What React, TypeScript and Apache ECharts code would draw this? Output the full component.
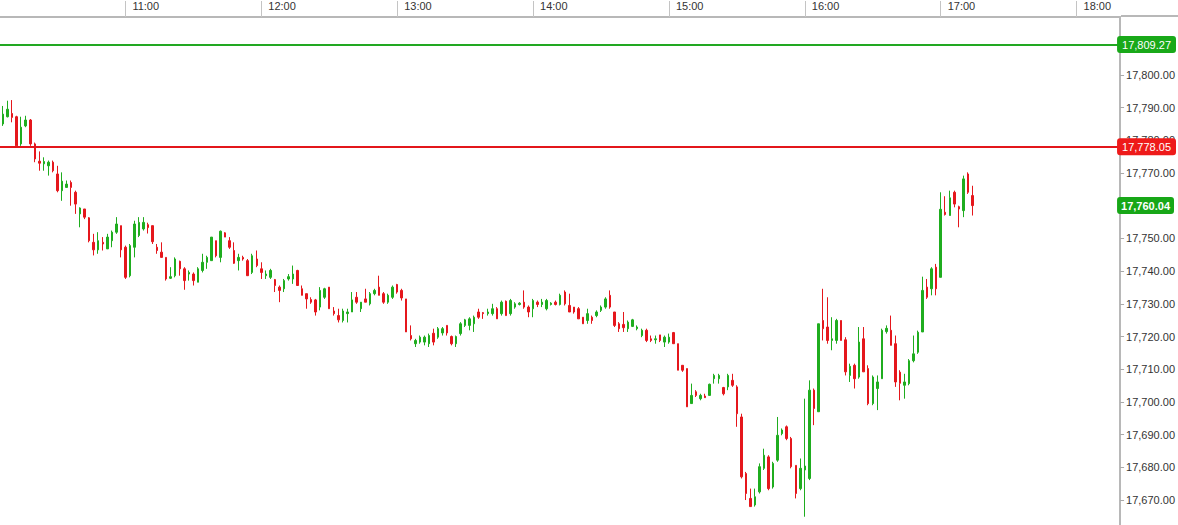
import React, { useEffect, useRef } from "react";
import * as echarts from "echarts";

// 2-minute candles, first one at 10:06 (minutes since midnight)
const startMinute = 606;
const stepMinutes = 2;

const opens = [
  17785.0, 17787.2, 17788.2, 17787.2, 17778.9, 17784.4, 17786.2, 17778.9, 17773.6, 17772.8,
  17772.2, 17773.3, 17769.7, 17764.6, 17765.6, 17767.1, 17764.1, 17757.5, 17759.0, 17756.3,
  17748.8, 17746.5, 17748.8, 17746.8, 17749.3, 17751.9, 17753.9, 17747.3, 17738.6, 17747.3,
  17750.9, 17752.9, 17754.2, 17753.9, 17747.3, 17745.8, 17744.2, 17737.8, 17738.6, 17743.0,
  17740.7, 17739.1, 17739.1, 17736.6, 17740.2, 17742.7, 17743.2, 17749.3, 17744.2, 17751.7,
  17749.3, 17746.3, 17743.2, 17744.2, 17743.2, 17739.6, 17743.7, 17740.7, 17738.6, 17738.1,
  17737.4, 17735.1, 17734.6, 17737.6, 17737.6, 17740.2, 17734.6, 17733.1, 17731.3, 17731.2,
  17729.0, 17732.0, 17735.1, 17727.8, 17726.4, 17724.9, 17727.0, 17727.5, 17732.0, 17728.5,
  17731.5, 17730.0, 17733.1, 17735.1, 17733.1, 17730.5, 17732.0, 17735.9, 17734.1, 17731.5,
  17720.3, 17717.8, 17718.3, 17718.3, 17717.8, 17721.0, 17719.8, 17721.1, 17723.4, 17720.0,
  17717.8, 17720.9, 17723.4, 17723.4, 17723.9, 17727.5, 17727.3, 17727.0, 17727.0, 17728.5,
  17727.0, 17730.8, 17727.0, 17729.0, 17729.8, 17730.5, 17729.0, 17728.5, 17730.5, 17729.8,
  17728.5, 17729.8, 17730.5, 17729.8, 17733.6, 17729.5, 17729.0, 17728.5, 17725.9, 17724.9,
  17725.9, 17726.4, 17728.0, 17729.0, 17732.6, 17727.5, 17723.9, 17723.7, 17722.4, 17723.1,
  17722.4, 17720.3, 17721.9, 17719.3, 17719.0, 17720.5, 17718.3, 17718.3, 17721.2, 17717.8,
  17711.2, 17710.2, 17699.5, 17703.1, 17701.0, 17701.8, 17702.0, 17707.1, 17707.1, 17704.4,
  17704.6, 17706.6, 17704.6, 17695.4, 17678.1, 17670.5, 17668.5, 17672.5, 17679.7, 17683.2,
  17674.0, 17682.2, 17690.3, 17692.4, 17688.8, 17680.6, 17673.5, 17679.2, 17676.6, 17703.6,
  17697.0, 17724.9, 17722.9, 17718.8, 17718.8, 17724.9, 17719.0, 17708.1, 17711.2, 17707.6,
  17719.3, 17710.2, 17699.5, 17704.1, 17707.1, 17721.5, 17721.9, 17717.8, 17709.1, 17705.1,
  17705.6, 17712.6, 17715.2, 17721.4, 17735.1, 17734.6, 17741.2, 17738.1, 17758.0, 17757.0,
  17764.1, 17759.7, 17758.5, 17769.7, 17763.1,
];

const closes = [
  17788.0, 17789.5, 17787.0, 17778.3, 17784.0, 17786.2, 17778.9, 17774.3, 17773.0, 17773.5,
  17773.3, 17770.7, 17764.6, 17767.5, 17766.6, 17765.6, 17760.5, 17759.3, 17756.5, 17749.3,
  17746.5, 17749.3, 17748.3, 17750.4, 17751.9, 17754.4, 17746.5, 17738.1, 17747.8, 17754.4,
  17754.9, 17754.9, 17753.3, 17749.0, 17746.3, 17744.2, 17737.6, 17738.3, 17743.7, 17740.7,
  17737.1, 17739.6, 17737.1, 17740.7, 17742.7, 17744.2, 17750.4, 17744.7, 17752.2, 17750.4,
  17747.3, 17742.4, 17744.2, 17743.7, 17738.6, 17744.7, 17741.7, 17739.6, 17739.1, 17740.2,
  17735.6, 17734.1, 17737.1, 17738.3, 17739.1, 17735.6, 17732.6, 17731.5, 17730.5, 17727.5,
  17734.1, 17734.6, 17728.5, 17727.0, 17725.1, 17727.8, 17727.5, 17731.2, 17730.5, 17730.5,
  17730.5, 17733.1, 17734.1, 17732.6, 17730.5, 17732.6, 17735.1, 17733.6, 17731.8, 17721.4,
  17719.3, 17718.8, 17719.8, 17719.8, 17720.3, 17718.3, 17722.4, 17722.4, 17721.1, 17717.8,
  17720.0, 17723.9, 17725.1, 17725.4, 17725.9, 17725.9, 17727.0, 17727.5, 17728.5, 17725.4,
  17730.5, 17726.4, 17731.0, 17730.0, 17730.2, 17729.0, 17727.5, 17731.0, 17729.8, 17730.5,
  17731.0, 17730.2, 17729.8, 17732.6, 17730.0, 17727.5, 17727.5, 17725.4, 17723.9, 17727.0,
  17724.9, 17727.5, 17729.0, 17731.5, 17729.0, 17723.4, 17722.4, 17722.7, 17724.4, 17725.1,
  17722.9, 17721.9, 17718.8, 17718.8, 17719.3, 17718.8, 17719.8, 17719.8, 17717.8, 17709.7,
  17709.7, 17698.5, 17702.0, 17702.0, 17702.0, 17701.3, 17705.4, 17708.1, 17708.1, 17702.5,
  17708.1, 17705.1, 17696.4, 17677.1, 17672.0, 17668.0, 17671.0, 17680.2, 17683.7, 17673.5,
  17681.2, 17689.8, 17691.4, 17688.8, 17680.2, 17672.0, 17679.7, 17680.4, 17703.6, 17698.0,
  17723.9, 17722.4, 17718.8, 17719.3, 17724.9, 17718.8, 17709.2, 17710.9, 17707.1, 17718.3,
  17709.2, 17699.5, 17707.6, 17706.1, 17721.9, 17722.5, 17717.3, 17706.1, 17705.7, 17706.1,
  17712.6, 17714.7, 17721.3, 17734.1, 17732.0, 17740.7, 17734.6, 17758.9, 17757.3, 17762.4,
  17760.5, 17759.0, 17768.2, 17764.1, 17760.04,
];

const lows = [
  17784.4, 17787.0, 17785.5, 17778.3, 17778.3, 17784.0, 17778.3, 17773.3, 17770.7, 17770.7,
  17769.2, 17770.2, 17764.1, 17761.5, 17765.5, 17760.0, 17757.5, 17753.4, 17755.9, 17748.8,
  17744.8, 17745.3, 17746.3, 17746.8, 17747.3, 17751.4, 17744.2, 17737.6, 17738.1, 17744.2,
  17750.4, 17752.4, 17751.5, 17748.3, 17745.3, 17744.2, 17737.1, 17737.6, 17738.1, 17738.6,
  17734.3, 17737.1, 17735.6, 17736.6, 17739.6, 17740.7, 17743.2, 17744.2, 17742.7, 17750.4,
  17746.8, 17742.2, 17740.2, 17743.2, 17738.6, 17739.1, 17741.2, 17737.6, 17737.6, 17737.6,
  17733.6, 17730.5, 17733.6, 17737.1, 17736.1, 17735.6, 17732.6, 17728.5, 17730.0, 17726.4,
  17728.0, 17731.5, 17728.5, 17726.4, 17724.3, 17724.3, 17724.3, 17727.5, 17730.0, 17727.5,
  17730.5, 17729.5, 17732.6, 17732.6, 17730.0, 17730.0, 17731.5, 17733.1, 17731.0, 17721.4,
  17718.8, 17716.8, 17717.8, 17717.3, 17716.8, 17717.3, 17719.3, 17720.3, 17720.3, 17717.3,
  17716.8, 17720.3, 17722.9, 17721.9, 17721.4, 17725.4, 17725.4, 17726.4, 17726.4, 17725.4,
  17726.4, 17726.4, 17726.4, 17728.5, 17729.5, 17728.5, 17725.9, 17725.9, 17729.0, 17729.0,
  17728.0, 17729.5, 17729.5, 17729.5, 17729.5, 17727.5, 17727.0, 17725.4, 17723.9, 17723.9,
  17723.9, 17725.9, 17727.5, 17728.5, 17728.5, 17722.9, 17721.4, 17721.4, 17721.4, 17722.9,
  17721.9, 17719.8, 17718.3, 17718.3, 17717.8, 17718.3, 17716.8, 17717.8, 17717.8, 17709.7,
  17709.2, 17698.5, 17699.5, 17701.5, 17700.5, 17701.2, 17702.0, 17705.6, 17705.6, 17702.0,
  17703.6, 17704.6, 17692.4, 17676.6, 17670.0, 17668.0, 17668.0, 17672.0, 17679.2, 17673.0,
  17673.5, 17681.7, 17689.8, 17688.3, 17679.7, 17670.5, 17673.0, 17664.9, 17676.1, 17692.9,
  17697.0, 17718.8, 17717.8, 17715.8, 17717.8, 17718.8, 17708.1, 17706.1, 17704.1, 17707.1,
  17709.2, 17699.0, 17699.0, 17697.5, 17707.1, 17720.9, 17717.3, 17704.6, 17700.5, 17701.0,
  17705.1, 17712.1, 17714.7, 17721.4, 17731.5, 17732.6, 17732.6, 17738.1, 17757.0, 17757.0,
  17759.5, 17753.4, 17756.5, 17763.6, 17757.0,
];

const highs = [
  17790.5, 17792.1, 17792.3, 17787.5, 17787.2, 17787.5, 17786.5, 17779.3, 17776.6, 17774.8,
  17773.8, 17773.8, 17772.2, 17770.2, 17767.7, 17767.7, 17764.6, 17759.5, 17759.0, 17756.5,
  17751.4, 17751.9, 17750.4, 17751.4, 17752.4, 17756.5, 17753.9, 17747.8, 17748.3, 17755.4,
  17756.5, 17756.5, 17754.8, 17753.9, 17748.3, 17748.8, 17744.2, 17741.2, 17744.2, 17743.2,
  17741.2, 17740.2, 17739.6, 17741.2, 17745.3, 17744.7, 17750.4, 17749.3, 17752.4, 17751.9,
  17750.4, 17748.8, 17745.3, 17744.7, 17743.7, 17745.3, 17746.3, 17742.7, 17740.2, 17740.7,
  17737.6, 17735.6, 17737.6, 17739.1, 17741.7, 17740.4, 17735.6, 17733.1, 17732.0, 17731.5,
  17735.1, 17734.9, 17735.1, 17729.0, 17728.5, 17728.5, 17728.5, 17733.6, 17733.6, 17730.5,
  17734.6, 17733.6, 17734.6, 17738.6, 17733.6, 17733.1, 17735.6, 17736.1, 17734.6, 17731.5,
  17723.4, 17719.3, 17720.3, 17720.3, 17720.9, 17722.4, 17722.9, 17722.9, 17723.4, 17720.3,
  17720.3, 17724.4, 17725.4, 17725.9, 17726.4, 17728.5, 17727.5, 17728.5, 17730.0, 17729.0,
  17731.0, 17731.0, 17731.5, 17730.5, 17730.5, 17734.1, 17729.5, 17731.5, 17731.0, 17731.5,
  17731.5, 17730.5, 17731.0, 17733.1, 17734.1, 17733.1, 17729.0, 17729.0, 17725.9, 17728.5,
  17726.4, 17728.0, 17729.5, 17732.0, 17734.1, 17727.5, 17724.4, 17727.5, 17724.9, 17725.4,
  17723.4, 17722.4, 17722.4, 17720.3, 17720.3, 17720.5, 17720.3, 17720.9, 17721.4, 17717.8,
  17711.2, 17710.2, 17705.6, 17703.6, 17702.5, 17702.5, 17705.6, 17708.6, 17708.6, 17704.6,
  17708.6, 17708.6, 17705.1, 17696.4, 17678.6, 17673.5, 17673.5, 17681.2, 17685.7, 17683.7,
  17681.7, 17695.4, 17691.9, 17692.8, 17689.3, 17680.6, 17682.7, 17701.0, 17706.6, 17704.1,
  17723.9, 17734.6, 17732.0, 17725.9, 17725.4, 17724.9, 17719.8, 17711.7, 17711.7, 17722.9,
  17722.9, 17711.2, 17708.1, 17708.1, 17722.4, 17723.4, 17726.4, 17720.3, 17709.7, 17708.6,
  17713.1, 17720.3, 17721.8, 17738.3, 17737.6, 17741.2, 17742.2, 17764.1, 17762.9, 17764.6,
  17764.6, 17760.0, 17769.2, 17770.2, 17766.1,
];

const hourTicks = [660, 720, 780, 840, 900, 960, 1020, 1080];
// tick marks at every 10 points; labels that the price boxes fully hide are left out
const priceTicks = [
  17670, 17680, 17690, 17700, 17710, 17720, 17730, 17740, 17750, 17760, 17770, 17780, 17790, 17800, 17810,
];
const priceLabels = [
  17670, 17680, 17690, 17700, 17710, 17720, 17730, 17740, 17750, 17770, 17780, 17790, 17800,
];
const resistanceLevel = 17809.27;
const supportLevel = 17778.05;
const lastPrice = 17760.04;

const UP = "#1fad1f";
const DOWN = "#e5171c";
const FONT = "'Liberation Sans', Arial, sans-serif";

const fmtPrice = (v: number) =>
  v.toLocaleString("en-US", { minimumFractionDigits: 2, maximumFractionDigits: 2 });
const fmtHour = (v: number) => `${Math.floor(v / 60)}:${String(v % 60).padStart(2, "0")}`;

export default function App() {
  const ref = useRef<HTMLDivElement>(null);

  useEffect(() => {
    if (!ref.current) return;
    const chart = echarts.init(ref.current, undefined, { renderer: "svg" });
    const n = Math.min(opens.length, closes.length, lows.length, highs.length);
    const data = [];
    for (let i = 0; i < n; i++) {
      data.push([startMinute + i * stepMinutes, opens[i], closes[i], lows[i], highs[i]]);
    }
    const boxLabel = (bg: string, bold = false, dist = -3) => ({
      show: true,
      position: "end",
      distance: dist,
      formatter: (p: any) => fmtPrice(p.value),
      color: "#ffffff",
      backgroundColor: bg,
      fontSize: 11,
      fontFamily: FONT,
      fontWeight: bold ? "bold" : "normal",
      padding: bold ? [3, 4, 3, 4] : [3, 5, 3, 5],
      borderRadius: 3,
    });

    chart.setOption({
      animation: false,
      backgroundColor: "#ffffff",
      textStyle: { fontFamily: FONT },
      grid: { left: 0, right: 57, top: 16, bottom: 0, containLabel: false },
      xAxis: {
        type: "value",
        position: "top",
        min: 604.63,
        max: 1099.2,
        splitLine: { show: false },
        axisLine: { show: true, onZero: false, lineStyle: { color: "#b8b8b8", width: 2 } },
        axisTick: {
          show: true,
          length: 16,
          customValues: hourTicks,
          lineStyle: { color: "#c4c4c4", width: 1 },
        },
        axisLabel: {
          customValues: hourTicks,
          formatter: (v: number) => fmtHour(v),
          align: "left",
          padding: [0, 0, 0, 7],
          margin: 6,
          color: "#333333",
          fontSize: 11,
          fontFamily: FONT,
        },
      },
      yAxis: {
        type: "value",
        position: "right",
        min: 17662.37,
        max: 17817.7,
        splitLine: { show: false },
        axisLine: { show: true, onZero: false, lineStyle: { color: "#b8b8b8", width: 2 } },
        axisTick: {
          show: true,
          length: 4,
          customValues: priceTicks,
          lineStyle: { color: "#aaaaaa", width: 1 },
        },
        axisLabel: {
          customValues: priceLabels,
          formatter: (v: number) => fmtPrice(v),
          margin: 6,
          color: "#333333",
          fontSize: 11,
          fontFamily: FONT,
        },
      },
      graphic: [
        {
          type: "line",
          shape: { x1: 1121, y1: 16, x2: 1178, y2: 16 },
          style: { stroke: "#b8b8b8", lineWidth: 2 },
          silent: true,
        },
      ],
      series: [
        {
          type: "candlestick",
          data,
          barWidth: 2,
          itemStyle: {
            color: UP,
            color0: DOWN,
            borderColor: UP,
            borderColor0: DOWN,
            borderWidth: 1,
          },
          markLine: {
            silent: true,
            symbol: ["none", "none"],
            animation: false,
            data: [
              {
                yAxis: resistanceLevel,
                lineStyle: { color: "#22a822", width: 2, type: "solid" },
                label: boxLabel("#19a919"),
              },
              {
                yAxis: supportLevel,
                lineStyle: { color: "#e3161b", width: 2, type: "solid" },
                label: boxLabel("#ee1a1a"),
              },
              {
                yAxis: lastPrice,
                lineStyle: { color: "rgba(255,255,255,0)", width: 1, type: "solid" },
                label: boxLabel("#17a717", true, -3),
              },
            ],
          },
        },
      ],
    });
    return () => chart.dispose();
  }, []);

  return (
    <div
      ref={ref}
      style={{ position: "absolute", left: 0, top: 0, width: 1178, height: 525, background: "#fff" }}
    />
  );
}
